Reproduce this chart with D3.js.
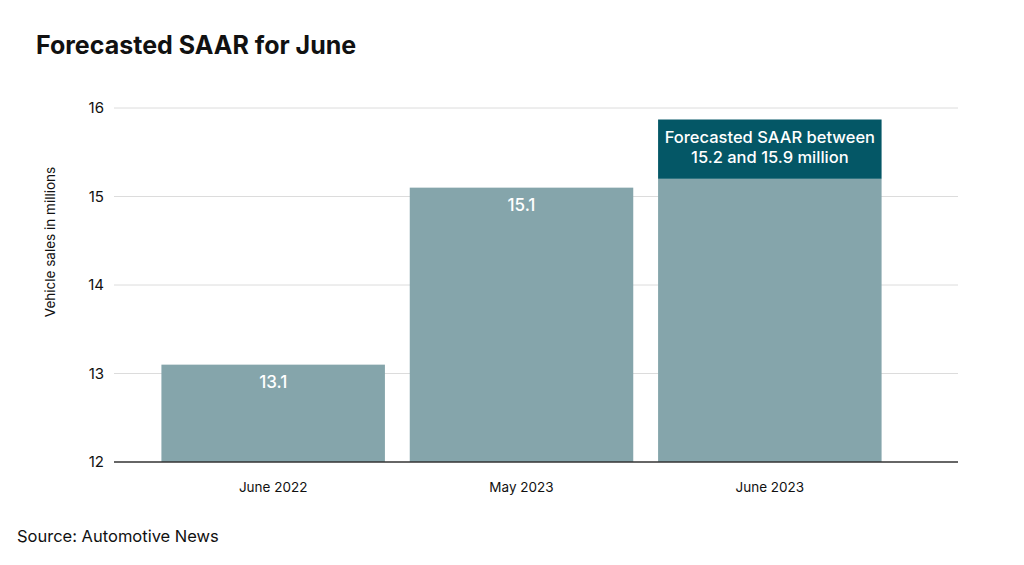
<!DOCTYPE html>
<html>
<head>
<meta charset="utf-8">
<script src="https://cdn.jsdelivr.net/npm/d3@7"></script>
<style>
  html, body { margin: 0; padding: 0; background: #fff; }
  #chart { width: 1024px; height: 565px; }
  text { font-family: Inter, "Liberation Sans", sans-serif; }
</style>
</head>
<body>
<div id="chart"></div>
<script>
// ---- data ----
const categories = ["June 2022", "May 2023", "June 2023"];
const values     = [13.1, 15.1, 15.2];
const barLabels  = ["13.1", "15.1", ""];
// forecast range on the last bar (low, high)
const forecastRange = [15.2, 15.87];
const forecastText  = ["Forecasted SAAR between", "15.2 and 15.9 million"];
const yTicks = [12, 13, 14, 15, 16];

// ---- layout ----
const W = 1024, H = 565;
const plotLeft = 114, plotRight = 958;
const plotTop = 108, plotBottom = 462;

const svg = d3.select('#chart').append('svg')
  .attr('width', W)
  .attr('height', H);

const x = d3.scaleBand()
  .domain(categories)
  .range([149, 894])
  .paddingInner(0.1)
  .paddingOuter(0.05);

const y = d3.scaleLinear()
  .domain([12, 16])
  .range([plotBottom, plotTop]);

// title
svg.append('text')
  .attr('x', 36).attr('y', 54)
  .attr('font-size', 25).attr('font-weight', 700)
  .attr('fill', '#111')
  .text('Forecasted SAAR for June');

// gridlines
svg.append('g')
  .selectAll('line')
  .data(yTicks.slice(1))
  .join('line')
  .attr('x1', plotLeft).attr('x2', plotRight)
  .attr('y1', d => y(d)).attr('y2', d => y(d))
  .attr('stroke', '#dcdcdc').attr('stroke-width', 1);

// y axis labels
const yAxis = svg.append('g')
  .attr('transform', `translate(${plotLeft},0)`)
  .call(d3.axisLeft(y).tickValues(yTicks).tickFormat(d3.format('d')).tickSize(0).tickPadding(10));
yAxis.select('.domain').remove();
yAxis.selectAll('text')
  .attr('font-size', 15).attr('fill', '#111')
  .style('font-family', 'Inter, "Liberation Sans", sans-serif');

// y axis title
svg.append('text')
  .attr('transform', `translate(55,242) rotate(-90)`)
  .attr('text-anchor', 'middle')
  .attr('font-size', 13.5).attr('fill', '#111')
  .text('Vehicle sales in millions');

// bars
svg.append('g')
  .selectAll('rect')
  .data(categories)
  .join('rect')
  .attr('x', d => x(d))
  .attr('width', x.bandwidth())
  .attr('y', (d, i) => y(values[i]))
  .attr('height', (d, i) => y(12) - y(values[i]))
  .attr('fill', '#85a5ab');

// forecast range block
const last = categories[categories.length - 1];
svg.append('rect')
  .attr('x', x(last))
  .attr('width', x.bandwidth())
  .attr('y', y(forecastRange[1]))
  .attr('height', y(forecastRange[0]) - y(forecastRange[1]))
  .attr('fill', '#045766');

svg.append('text')
  .attr('x', x(last) + x.bandwidth() / 2)
  .attr('y', y(forecastRange[1]) + 23)
  .attr('text-anchor', 'middle')
  .attr('font-size', 16.5).attr('font-weight', 500)
  .attr('fill', '#fff')
  .selectAll('tspan')
  .data(forecastText)
  .join('tspan')
  .attr('x', x(last) + x.bandwidth() / 2)
  .attr('dy', (d, i) => i ? 20 : 0)
  .text(d => d);

// value labels
svg.append('g')
  .selectAll('text')
  .data(categories)
  .join('text')
  .attr('x', d => x(d) + x.bandwidth() / 2)
  .attr('y', (d, i) => y(values[i]) + 23)
  .attr('text-anchor', 'middle')
  .attr('font-size', 17).attr('font-weight', 500)
  .attr('fill', '#fff')
  .text((d, i) => barLabels[i]);

// baseline
svg.append('line')
  .attr('x1', plotLeft).attr('x2', plotRight)
  .attr('y1', y(12)).attr('y2', y(12))
  .attr('stroke', '#333').attr('stroke-width', 1.5);

// x labels
svg.append('g')
  .selectAll('text')
  .data(categories)
  .join('text')
  .attr('x', d => x(d) + x.bandwidth() / 2)
  .attr('y', 492)
  .attr('text-anchor', 'middle')
  .attr('font-size', 13.5).attr('fill', '#111')
  .text(d => d);

// source
svg.append('text')
  .attr('x', 17).attr('y', 542)
  .attr('font-size', 16.5).attr('fill', '#111')
  .text('Source: Automotive News');
</script>
</body>
</html>
